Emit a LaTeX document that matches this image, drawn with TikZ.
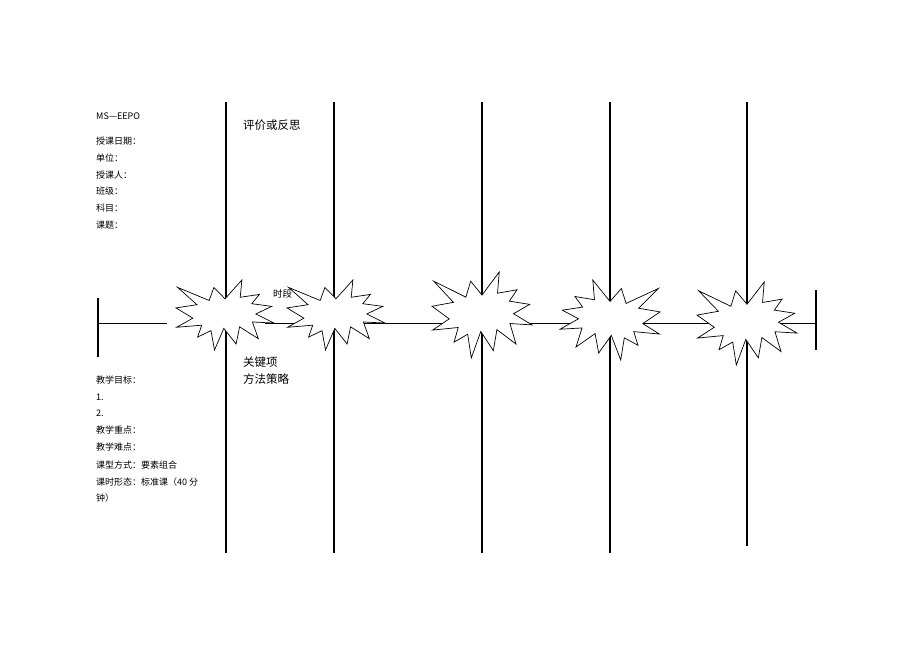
\documentclass[tikz,border=0pt]{standalone}
\usepackage{fontspec}
\newfontfamily\cjk{Noto Sans CJK SC}
\begin{document}
\begin{tikzpicture}[x=1pt,y=-1pt,
  bar/.style={line width=1.6pt},
  boom/.style={draw,fill=white,line width=0.7pt,line join=miter},
  lbl/.style={anchor=west,inner sep=0pt,font=\cjk\fontsize{9}{11}\selectfont},
  big/.style={anchor=west,inner sep=0pt,font=\cjk\fontsize{11.5}{13}\selectfont},
  tiny/.style={anchor=west,inner sep=0pt,font=\cjk\fontsize{9.5}{11}\selectfont},
  explosion/.pic={\draw[boom] (0.5,0.2685) -- (0.3867,0.1063) -- (0.3385,0.2926) -- (0.0171,0.1063) -- (0.2142,0.3526) -- (0,0.3988) -- (0.1723,0.5451) -- (0.00625,0.6753) -- (0.2624,0.6452) -- (0.2205,0.8156) -- (0.3572,0.7235) -- (0.3928,1) -- (0.4876,0.6914) -- (0.6133,0.9137) -- (0.6491,0.6693) -- (0.8400,0.8377) -- (0.7795,0.5992) -- (1,0.6153) -- (0.8151,0.4850) -- (0.9767,0.3767) -- (0.7732,0.3387) -- (0.8509,0.2063) -- (0.6553,0.2465) -- (0.6723,0) -- cycle;}]
\useasboundingbox (0,0) rectangle (920,651);
\fill[white] (0,0) rectangle (920,651);

% vertical columns
\coordinate (v1t) at (226,102); \coordinate (v1b) at (226,553);
\coordinate (v2t) at (334,102); \coordinate (v2b) at (334,553);
\coordinate (v3t) at (482,102); \coordinate (v3b) at (482,553);
\coordinate (v4t) at (610,102); \coordinate (v4b) at (610,553);
\coordinate (v5t) at (747,102); \coordinate (v5b) at (747,546);
\foreach \i in {1,...,5} {\draw[bar] (v\i t) -- (v\i b);}

% left and right end bars
\coordinate (lt) at (98,298); \coordinate (lb) at (98,357);
\coordinate (rt) at (816,290); \coordinate (rb) at (816,350);
\coordinate (l0) at (98,323.5); \coordinate (l1) at (167,323.5);
\coordinate (m0) at (265,323.5); \coordinate (r0) at (816,323.5);
\draw[bar] (lt) -- (lb);
\draw[bar] (rt) -- (rb);
\draw[bar] (l0) -- (l1);

% texts
\node[lbl] (t0) at (96,116) {MS—EEPO};
\node[lbl] (t1) at (96,141) {授课日期：};
\node[lbl] (t2) at (96,158) {单位：};
\node[lbl] (t3) at (96,175) {授课人：};
\node[lbl] (t4) at (96,191) {班级：};
\node[lbl] (t5) at (96,208) {科目：};
\node[lbl] (t6) at (96,225) {课题：};
\node[big] (pj) at (243,125) {评价或反思};
\node[tiny] (sd) at (273,294) {时段};
\node[big] (gj) at (243,362) {关键项};
\node[big] (ff) at (243,379) {方法策略};
\node[lbl] (b1) at (96,380) {教学目标：};
\node[lbl] (b2) at (96,397) {1.};
\node[lbl] (b3) at (96,413) {2.};
\node[lbl] (b4) at (96,430) {教学重点：};
\node[lbl] (b5) at (96,447) {教学难点：};
\node[lbl] (b6) at (96,465) {课型方式：要素组合};
\node[lbl] (b7) at (96,482) {课时形态：标准课（40 分};
\node[lbl] (b8) at (96,498) {钟）};

% explosions
\pic (e1) [xscale=98,yscale=70] at (176,280) {explosion};
\draw[bar] (m0) -- (r0);
\pic (e2) [xscale=98,yscale=70] at (287,280) {explosion};
\pic (e3) [xscale=100,yscale=86] at (432,272) {explosion};
\pic (e4) [xscale=-100,yscale=80] at (660,280) {explosion};
\pic (e5) [xscale=100,yscale=83] at (697,282) {explosion};
\end{tikzpicture}
\end{document}
